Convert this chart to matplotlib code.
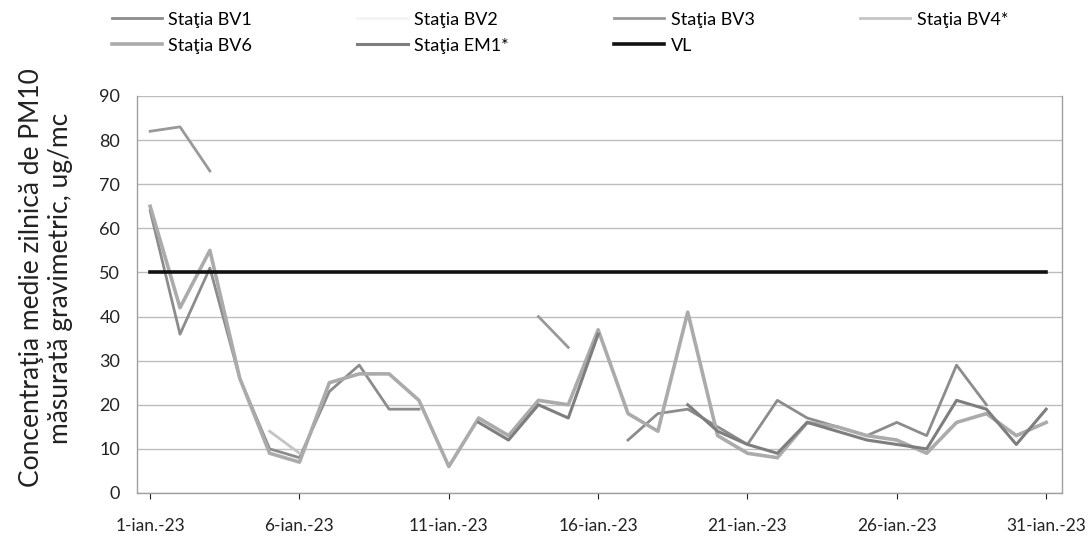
import numpy as np
import matplotlib
matplotlib.use("Agg")
import matplotlib.pyplot as plt

plt.rcParams['font.family'] = ['Lato', 'DejaVu Sans']

nan = np.nan
days = np.arange(1, 32)
tick_days = [1, 6, 11, 16, 21, 26, 31]
tick_labels = [f"{d}-ian.-23" for d in tick_days]

# daily PM10 values, ug/mc
bv1 = [64, 36, 51, 26, 10, 8, 23, 29, 19, 19, nan, nan, nan, nan, nan, nan,
       12, 18, 19, 15, 11, 21, 17, 15, 13, 16, 13, 29, 20, nan, nan]
bv2 = [nan] * 31
bv3 = [82, 83, 73, nan, nan, nan, nan, nan, nan, nan, nan, nan, nan, 40, 33, nan,
       nan, nan, nan, nan, nan, nan, nan, nan, nan, nan, nan, nan, nan, nan, nan]
bv4 = [nan, nan, nan, nan, 14, 9, nan, nan, nan, nan, nan, nan, nan, nan, nan, nan,
       nan, nan, nan, nan, nan, nan, nan, nan, nan, nan, nan, nan, nan, nan, nan]
bv6 = [65, 42, 55, 26, 9, 7, 25, 27, 27, 21, 6, 17, 13, 21, 20, 37,
       18, 14, 41, 13, 9, 8, 16, 15, 13, 12, 9, 16, 18, 13, 16]
em1 = [nan, nan, nan, nan, nan, nan, nan, nan, nan, nan, nan, 16, 12, 20, 17, 36,
       nan, nan, 20, 14, 11, 9, 16, 14, 12, 11, 10, 21, 19, 11, 19]
vl = [50] * 31

fig = plt.figure(figsize=(10.9, 5.46), dpi=100)
ax = fig.add_axes([0.1257, 0.0971, 0.8486, 0.7271])

h_bv1, = ax.plot(days, bv1, color='#8c8c8c', lw=2.0, label='Staţia BV1')
h_bv2, = ax.plot(days, bv2, color='#f4f4f4', lw=2.0, label='Staţia BV2')
h_bv3, = ax.plot(days, bv3, color='#999999', lw=2.0, label='Staţia BV3')
h_bv4, = ax.plot(days, bv4, color='#c4c4c4', lw=2.0, label='Staţia BV4*')
h_bv6, = ax.plot(days, bv6, color='#ababab', lw=2.6, label='Staţia BV6')
h_em1, = ax.plot(days, em1, color='#7e7e7e', lw=2.2, label='Staţia EM1*')
h_vl, = ax.plot(days, vl, color='#111111', lw=2.6, label='VL')

ax.set_xlim(0.56, 31.53)
ax.set_ylim(0, 90)
ax.set_yticks(np.arange(0, 91, 10))
ax.set_xticks(tick_days)
ax.set_xticklabels(tick_labels)
ax.tick_params(axis='y', length=0, pad=12, labelsize=13, colors='#222222')
ax.tick_params(axis='x', length=4, pad=14, labelsize=12.5, colors='#222222')
ax.yaxis.grid(True, color='#bdbdbd', lw=1.0)
ax.set_axisbelow(True)
ax.spines['top'].set_visible(False)
for s in ['left', 'right', 'bottom']:
    ax.spines[s].set_color('#a0a0a0')
    ax.spines[s].set_linewidth(1.0)

fig.text(46 / 1090, 1 - 278 / 546,
         "Concentraţia medie zilnică de PM10\nmăsurată gravimetric, ug/mc",
         rotation=90, ha='center', va='center', multialignment='center',
         fontsize=19, color='#222222', linespacing=1.2)

handles = [h_bv1, h_bv6, h_bv2, h_em1, h_bv3, h_vl, h_bv4]
fig.legend(handles, [h.get_label() for h in handles], ncol=4,
           loc='upper left', bbox_to_anchor=(0.099, 0.985), frameon=False,
           fontsize=13, handlelength=2.8, handletextpad=0.35,
           columnspacing=5.82, labelspacing=0.55, borderaxespad=0, borderpad=0.2)

fig.savefig('out.png', dpi=100, facecolor='white')
